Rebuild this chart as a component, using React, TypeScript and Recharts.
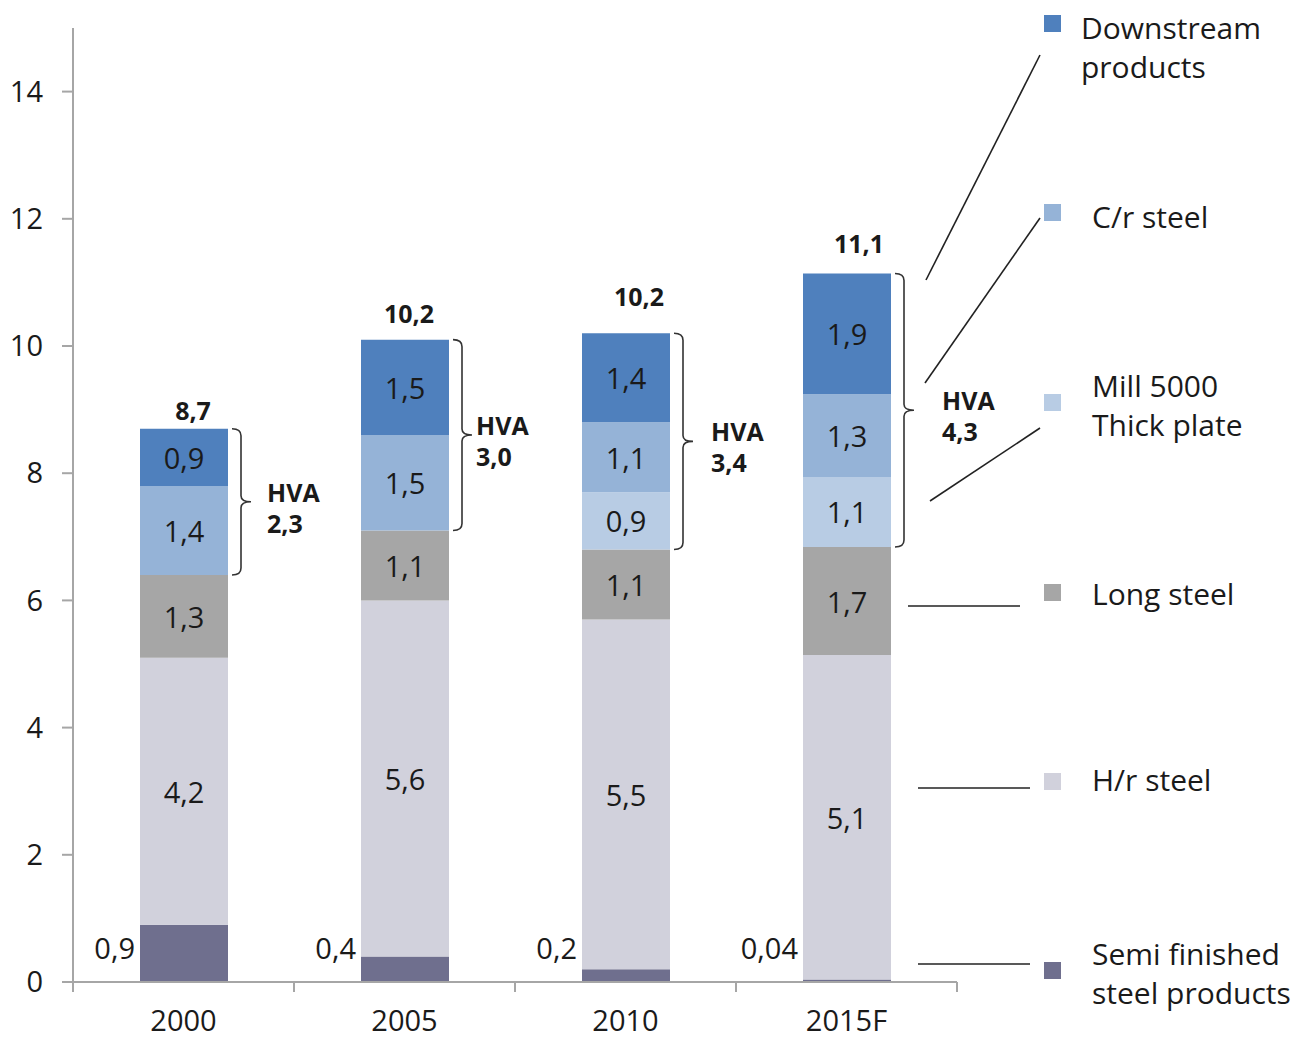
import React from 'react';
import { BarChart, Bar, XAxis, YAxis, LabelList } from 'recharts';

// values in million tonnes
const years = ['2000', '2005', '2010', '2015F'];
const semiFinished = [0.9, 0.4, 0.2, 0.04];
const hotRolled = [4.2, 5.6, 5.5, 5.1];
const longSteel = [1.3, 1.1, 1.1, 1.7];
const thickPlate = [0, 0, 0.9, 1.1];
const coldRolled = [1.4, 1.5, 1.1, 1.3];
const downstream = [0.9, 1.5, 1.4, 1.9];
const totals = [8.7, 10.2, 10.2, 11.1];
const hvaTotals = [2.3, 3.0, 3.4, 4.3];
const yTicks = [0, 2, 4, 6, 8, 10, 12, 14];

const series = [
    { key: 'semi', label: ['Semi finished', 'steel products'], values: semiFinished, color: '#6f6f8e' },
    { key: 'hr', label: ['H/r steel'], values: hotRolled, color: '#d1d1dc' },
    { key: 'long', label: ['Long steel'], values: longSteel, color: '#a6a6a6' },
    { key: 'plate', label: ['Mill 5000', 'Thick plate'], values: thickPlate, color: '#b8cce4' },
    { key: 'cr', label: ['C/r steel'], values: coldRolled, color: '#95b3d7' },
    { key: 'down', label: ['Downstream', 'products'], values: downstream, color: '#4f80bd' },
];

const rows = years.map((year, i) => {
    const row: Record<string, string | number> = { year };
    series.forEach((s) => { row[s.key] = s.values[i]; });
    return row;
});

// layout
const W = 1303;
const H = 1038;
const M_TOP = 28;
const M_RIGHT = 346;
const Y_AXIS_W = 73;
const X_AXIS_H = 56;
const AXIS_Y = H - X_AXIS_H;
const PLOT_W = W - Y_AXIS_W - M_RIGHT;
const BAND = PLOT_W / years.length;
const Y_MAX = 15;
const PX_PER_UNIT = (AXIS_Y - M_TOP) / Y_MAX;
const AXIS = '#a6a6a6';
const INK = '#1a1a1a';
const FONT = '"Open Sans", sans-serif';

const totalDx = [9, 4, 13, 12];
const totalDy = [-19, -27, -37, -30];
const hvaDx = [16, 4, 18, 28];

// legend marker / text positions, top to bottom
const legendPos: Record<string, { sq: number; tx: number; base: number }> = {
    down: { sq: 15, tx: 1081, base: 39 },
    cr: { sq: 204, tx: 1092, base: 228 },
    plate: { sq: 394, tx: 1092, base: 397 },
    long: { sq: 584, tx: 1092, base: 605 },
    hr: { sq: 773, tx: 1092, base: 791 },
    semi: { sq: 962, tx: 1092, base: 965 },
};
const leaders = [
    [1040, 55, 926, 280],
    [1040, 218, 925, 383],
    [1040, 428, 930, 501],
    [908, 606, 1020, 606],
    [918, 788, 1030, 788],
    [918, 964, 1030, 964],
];

const fmt = (v: number) => String(v).replace('.', ',');

const SegmentLabel = (props: any) => {
    const { x, y, width, height, value } = props;
    if (!value || height < 20) return null;
    return (
        <text x={x + width / 2} y={y + height / 2} textAnchor="middle" dominantBaseline="central"
            fill={INK} fontSize={29} fontFamily={FONT}>
            {fmt(value)}
        </text>
    );
};

const SemiLabel = (props: any) => {
    const { x, y, height, value } = props;
    return (
        <text x={x - 5} y={y + height - 35} textAnchor="end" dominantBaseline="central"
            fill={INK} fontSize={29} fontFamily={FONT}>
            {fmt(value)}
        </text>
    );
};

const TopLabel = (props: any) => {
    const { x, y, width, index } = props;
    const top = y;
    const bot = y + hvaTotals[index] * PX_PER_UNIT;
    const mid = (top + bot) / 2;
    const x0 = x + width + 4;
    const x1 = x0 + 9;
    const tip = x1 + 10;
    const d = `M${x0},${top} Q${x1},${top} ${x1},${top + 7} L${x1},${mid - 6} Q${x1},${mid} ${tip},${mid}` +
        ` Q${x1},${mid} ${x1},${mid + 6} L${x1},${bot - 7} Q${x1},${bot} ${x0},${bot}`;
    const hx = tip + hvaDx[index];
    return (
        <g fontFamily={FONT} fill={INK}>
            <SegmentLabel {...props} />
            <text x={x + width / 2 + totalDx[index]} y={y + totalDy[index]} textAnchor="middle"
                dominantBaseline="central" fontSize={25} fontWeight={700}>
                {fmt(totals[index])}
            </text>
            <path d={d} fill="none" stroke="#333" strokeWidth={1.6} />
            <text x={hx} y={mid - 10} dominantBaseline="central" fontSize={25} fontWeight={700}>HVA</text>
            <text x={hx} y={mid + 21} dominantBaseline="central" fontSize={25} fontWeight={700}>
                {hvaTotals[index].toFixed(1).replace('.', ',')}
            </text>
        </g>
    );
};

const YearTick = (props: any) => {
    const { x, payload, index } = props;
    const half = BAND / 2;
    return (
        <g>
            <line x1={x - half} x2={x - half} y1={AXIS_Y} y2={AXIS_Y + 10} stroke={AXIS} strokeWidth={2} />
            {index === years.length - 1 && (
                <line x1={x + half} x2={x + half} y1={AXIS_Y} y2={AXIS_Y + 10} stroke={AXIS} strokeWidth={2} />
            )}
            <text x={x} y={AXIS_Y + 49} textAnchor="middle" fill={INK} fontSize={29} fontFamily={FONT}>
                {payload.value}
            </text>
        </g>
    );
};

export default function App() {
    return (
        <div style={{ position: 'absolute', left: 0, top: 0, width: W, height: H, background: '#fff' }}>
            <BarChart width={W} height={H} data={rows} margin={{ top: M_TOP, right: M_RIGHT, bottom: 0, left: 0 }}>
                <XAxis dataKey="year" height={X_AXIS_H} interval={0} tickLine={false}
                    axisLine={{ stroke: AXIS, strokeWidth: 2 }} tick={(p: any) => <YearTick {...p} />} />
                <YAxis width={Y_AXIS_W} domain={[0, Y_MAX]} ticks={yTicks} interval={0} tickSize={11} tickMargin={19}
                    axisLine={{ stroke: AXIS, strokeWidth: 2 }} tickLine={{ stroke: AXIS, strokeWidth: 2 }}
                    tick={{ fill: INK, fontSize: 29, fontFamily: FONT }} />
                {series.map((s) => (
                    <Bar key={s.key} dataKey={s.key} stackId="a" fill={s.color} barSize={88} isAnimationActive={false}>
                        <LabelList dataKey={s.key}
                            content={s.key === 'semi' ? SemiLabel : s.key === 'down' ? TopLabel : SegmentLabel} />
                    </Bar>
                ))}
            </BarChart>
            <svg width={W} height={H} style={{ position: 'absolute', left: 0, top: 0, pointerEvents: 'none' }}>
                {leaders.map(([a, b, c, d], i) => (
                    <line key={i} x1={a} y1={b} x2={c} y2={d} stroke="#222" strokeWidth={1.6} />
                ))}
                {series.map((s) => {
                    const p = legendPos[s.key];
                    return (
                        <g key={s.key}>
                            <rect x={1044} y={p.sq} width={17} height={17} fill={s.color} />
                            {s.label.map((t, j) => (
                                <text key={j} x={p.tx} y={p.base + j * 39} fill={INK} fontSize={30} fontFamily={FONT}>
                                    {t}
                                </text>
                            ))}
                        </g>
                    );
                })}
            </svg>
        </div>
    );
}
